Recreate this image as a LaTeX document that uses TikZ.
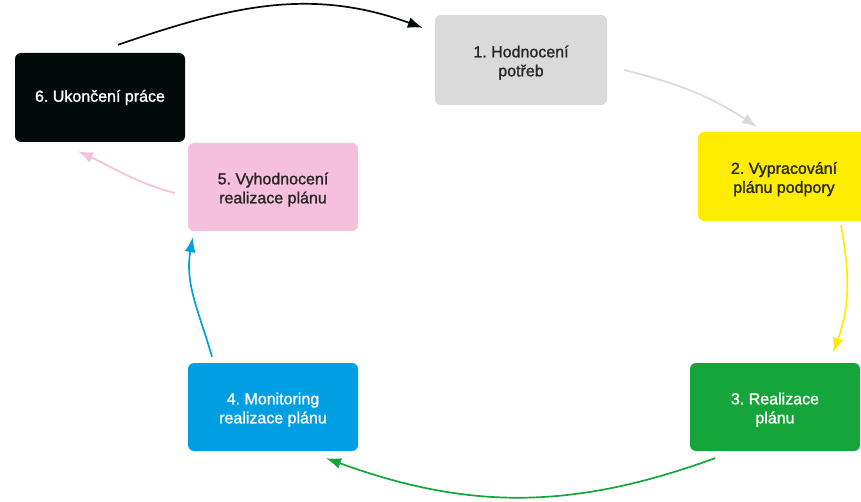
\documentclass[tikz,border=0pt]{standalone}
\usepackage{fontspec}
\setmainfont{Liberation Sans}[FakeBold=1.3]
\usetikzlibrary{arrows.meta}
\definecolor{cgray}{HTML}{DADADA}
\definecolor{cyellow}{HTML}{FFED00}
\definecolor{cgreen}{HTML}{16A53B}
\definecolor{cblue}{HTML}{009FE3}
\definecolor{cpink}{HTML}{F6BFDC}
\definecolor{cblack}{HTML}{030A0A}
\definecolor{ctext}{HTML}{262626}
\newcommand{\topstrut}{\rule{0pt}{17pt}}
\tikzset{
  stepbox/.style={rectangle, rounded corners=6pt, minimum width=170pt, minimum height=89pt,
    align=center, font=\fontsize{16}{19}\selectfont\frenchspacing, inner sep=0pt},
  conn/.style={line width=1.7pt, -{Latex[length=15pt,width=11pt]}}
}
\begin{document}
\begin{tikzpicture}[x=1pt,y=1pt]
\useasboundingbox (0,0) rectangle (861,501);
\begin{scope}
\clip (0,0) rectangle (861,501);
\node[stepbox, fill=cgray, text=ctext, minimum width=172pt, minimum height=90pt] (n1) at (521,441) {\topstrut 1. Hodnocení\\potřeb};
\node[stepbox, fill=cyellow, text=ctext, minimum width=172pt] (n2) at (784,324.5) {\topstrut 2. Vypracování\\plánu podpory};
\node[stepbox, fill=cgreen, text=white, minimum height=88pt] (n3) at (775,94) {\topstrut 3. Realizace\\plánu};
\node[stepbox, fill=cblue, text=white, minimum height=88pt] (n4) at (273,94) {\topstrut 4. Monitoring\\realizace plánu};
\node[stepbox, fill=cpink, text=ctext, minimum height=88pt] (n5) at (273,314) {\topstrut 5. Vyhodnocení\\realizace plánu};
\node[stepbox, fill=cblack, text=white] (n6) at (100,403.5) {6. Ukončení práce};
\end{scope}
\draw[conn, cblack] ([shift={(18pt,8pt)}]n6.north) to[out=19,in=160] ([shift={(-12pt,-13pt)}]n1.north west);
\draw[conn, cgray] ([shift={(17pt,-10pt)}]n1.east) to[out=-14,in=147] ([shift={(-27pt,5pt)}]n2.north);
\draw[conn, cyellow] ([shift={(57pt,-4pt)}]n2.south) to[out=-80,in=70] ([shift={(58pt,10pt)}]n3.north);
\draw[conn, cgreen] ([shift={(-60pt,-7pt)}]n3.south) to[out=200,in=-20] ([shift={(53pt,-7pt)}]n4.south);
\draw[conn, cblue] ([shift={(-61pt,6pt)}]n4.north) to[out=106,in=-100] ([shift={(5pt,-6pt)}]n5.south west);
\draw[conn, cpink] ([shift={(-13pt,-6pt)}]n5.west) to[out=165,in=-25] ([shift={(-22pt,-9pt)}]n6.south);
\end{tikzpicture}
\end{document}
